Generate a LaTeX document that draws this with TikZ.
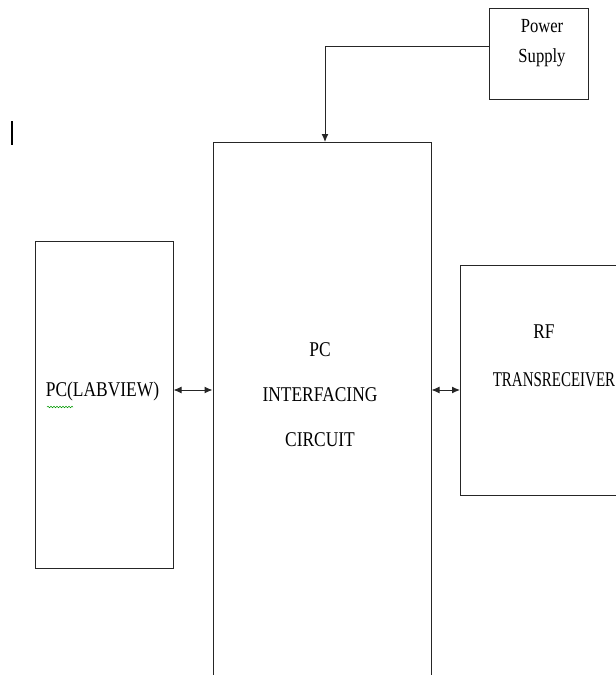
\documentclass[tikz,border=0pt]{standalone}
\usepackage{fontspec}
\newfontfamily\blkfont{Liberation Serif}[FakeStretch=0.83]
\usetikzlibrary{arrows.meta,positioning,calc,decorations.pathmorphing}

\begin{document}
\begin{tikzpicture}[x=1pt,y=-1pt,>={Latex[length=8pt,width=7pt]},
  blk/.style={draw=black!85,line width=1pt,inner sep=0pt},
  lbl/.style={font=\blkfont\fontsize{21}{45}\selectfont,align=center,inner sep=0pt}]
\useasboundingbox (0,0) rectangle (616,675);
% blocks
\node[blk,minimum width=99pt,minimum height=91pt] (ps) at (538.5,53.5) {};
\node[blk,minimum width=218pt,minimum height=560pt,anchor=north] (pcic) at (322,142) {};
\node[blk,minimum width=138pt,minimum height=327pt] (pc) at (104,404.5) {};
\node[blk,minimum width=200pt,minimum height=230pt,anchor=north west] (rf) at (460,265) {};
% texts
\node[lbl,font=\blkfont\fontsize{20}{30}\selectfont] (pstxt) at (542,43) {Power\\Supply};
\node[lbl] (pcictxt) at (320,395) {PC\\INTERFACING\\CIRCUIT};
\node[lbl] (pctxt) at (102.5,391) {PC(LABVIEW)};
\node[lbl] (rftxt) at (544,332) {RF};
\node[lbl,xscale=0.86,transform shape] (trxtxt) at (554,380) {TRANSRECEIVER};
% connections
\draw[->,black!85,line width=1pt] ([yshift=7.5pt]ps.west) -| ([xshift=3pt]pcic.north);
\draw[<->,black!85,line width=1pt] ([yshift=14.5pt]pc.east) -- ([yshift=14.5pt]pc.east -| pcic.west);
\draw[<->,black!85,line width=1pt] ([yshift=14.5pt]pc.east -| pcic.east) -- ([yshift=14.5pt]pc.east -| rf.west);
% cursor and spell mark
\draw[line width=1.5pt] (12,121) -- (12,145);
\draw[green!60!black,line width=0.5pt,decorate,decoration={snake,amplitude=0.8pt,segment length=3pt}] (47,407) -- (73,407);
\end{tikzpicture}
\end{document}
